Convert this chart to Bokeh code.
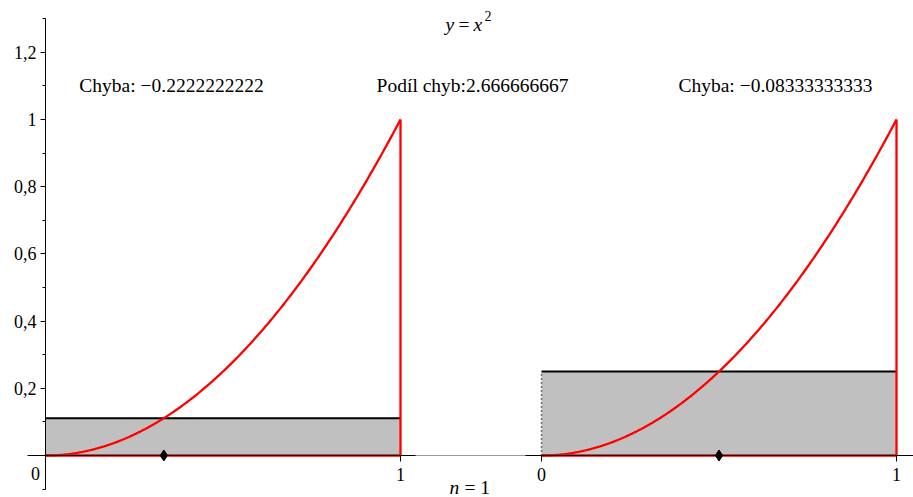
import numpy as np
from bokeh.plotting import figure
from bokeh.models import LinearAxis, FixedTicker, Range1d, Label
from bokeh.embed import file_html
from bokeh.resources import INLINE

# ---------------- data ----------------
interval = [0.0, 1.0]            # integration interval, n = 1 subinterval
n_value = 1
left_sample_x = [1 / 3]          # sample point in the left panel
left_rect_height = [1 / 9]       # rectangle height in the left panel
right_sample_x = [0.5]           # sample point in the right panel
right_rect_height = [0.25]       # rectangle height in the right panel
error_left = -0.2222222222
error_right = -0.08333333333
error_ratio = 2.666666667
curve_x = np.linspace(0.0, 1.0, 201)
curve_y = curve_x ** 2           # the plotted function y = x^2

y_major_ticks = [0.2, 0.4, 0.6, 0.8, 1.0, 1.2]
y_major_labels = ["0,2", "0,4", "0,6", "0,8", "1", "1,2"]
y_minor_ticks = [-0.1, 0.1, 0.3, 0.5, 0.7, 0.9, 1.1, 1.3]
x_tick_labels = ["1", "0", "1"]

# ---------------- layout ----------------
W, H = 913, 497
PX_X, PX_Y = 355.0, 336.0          # pixels per data unit
ORIG_X, ORIG_Y = 45, 455           # origin inside the figure
OFF = 496 / PX_X                   # horizontal offset of the second panel

def dx(page_x):
    return (page_x - ORIG_X) / PX_X

def dy(page_y):
    return (ORIG_Y - page_y) / PX_Y

FONT = "Liberation Serif"
RED = "#ff0000"

p = figure(width=W, height=H, title=None,
           x_range=Range1d(-ORIG_X / PX_X, (W - ORIG_X) / PX_X),
           y_range=Range1d(-(H - ORIG_Y) / PX_Y, ORIG_Y / PX_Y),
           output_backend="svg", toolbar_location=None, min_border=0,
           x_axis_type=None, y_axis_type=None)
p.outline_line_color = None
p.background_fill_color = "white"
p.border_fill_color = "white"

# ---------------- panels ----------------
a, b = interval
panels = [(0.0, left_sample_x[0], left_rect_height[0], False),
          (OFF, right_sample_x[0], right_rect_height[0], True)]
for o, s, h, dotted in panels:
    p.quad(left=[a + o], right=[b + o], bottom=[0], top=[h],
           fill_color="#c0c0c0", line_color=None)
    p.segment(x0=[a + o], y0=[h], x1=[b + o], y1=[h], line_color="black", line_width=2)
    if dotted:
        p.segment(x0=[a + o], y0=[0], x1=[a + o], y1=[h], line_color="black",
                  line_width=1.5, line_dash="1 3")
    p.line(curve_x + o, curve_y, line_color=RED, line_width=2.3)
    p.segment(x0=[b + o], y0=[0], x1=[b + o], y1=[curve_y[-1]], line_color=RED, line_width=2.3)
    p.segment(x0=[a + o], y0=[0], x1=[b + o], y1=[0], line_color=RED, line_width=2.5)
    p.scatter([s + o], [0], marker="diamond", size=11, color="black")

# ---------------- axes ----------------
yaxis = LinearAxis(fixed_location=0,
                   ticker=FixedTicker(ticks=y_major_ticks, minor_ticks=y_minor_ticks),
                   bounds=(y_minor_ticks[0], y_minor_ticks[-1]))
yaxis.major_label_overrides = dict(zip(y_major_ticks, y_major_labels))
yaxis.major_tick_out = 5
yaxis.major_tick_in = 0
yaxis.minor_tick_out = 3
yaxis.minor_tick_in = 0
yaxis.major_label_standoff = 4
yaxis.major_label_text_font = FONT
yaxis.major_label_text_font_size = "18px"
yaxis.major_label_text_color = "black"
yaxis.axis_line_color = "black"
yaxis.major_tick_line_color = "black"
yaxis.minor_tick_line_color = "black"
p.add_layout(yaxis, "left")

x_ticks = [b, OFF + a, OFF + b]
xaxis = LinearAxis(fixed_location=0,
                   ticker=FixedTicker(ticks=x_ticks, minor_ticks=[]),
                   bounds=(dx(27), (W - ORIG_X) / PX_X))
xaxis.major_label_overrides = dict(zip(x_ticks, x_tick_labels))
xaxis.major_tick_out = 6
xaxis.major_tick_in = 0
xaxis.major_label_standoff = 6
xaxis.major_label_text_font = FONT
xaxis.major_label_text_font_size = "18px"
xaxis.major_label_text_color = "black"
xaxis.axis_line_color = "black"
xaxis.major_tick_line_color = "black"
p.add_layout(xaxis, "below")

# lighter stretch of the axis between the two panels
p.segment(x0=[b + dx(60)], y0=[0], x1=[OFF + a - dx(61)], y1=[0],
          line_color="#9a9a9a", line_width=1, level="overlay")

# origin label
p.add_layout(Label(x=dx(35), y=dy(473), text="0", text_font=FONT, text_font_size="18px",
                   text_align="center", text_baseline="middle", text_color="black"))

# ---------------- texts ----------------
def fmt(v):
    return str(v).replace("-", "\u2212")

TS = "19.5px"
for txt, px in [("Chyba: " + fmt(error_left), 171),
                ("Podíl chyb:" + fmt(error_ratio), 472),
                ("Chyba: " + fmt(error_right), 775)]:
    p.add_layout(Label(x=dx(px), y=dy(85), text=txt, text_font=FONT, text_font_size=TS,
                       text_align="center", text_baseline="middle", text_color="black"))

# title y = x^2
for txt, px, py, style, size in [("y", 445, 24, "italic", TS), ("=", 458, 24, "normal", TS),
                                 ("x", 473, 24, "italic", TS), ("2", 484, 15, "normal", "14px")]:
    p.add_layout(Label(x=dx(px), y=dy(py), text=txt, text_font=FONT, text_font_size=size,
                       text_font_style=style, text_align="left", text_baseline="middle",
                       text_color="black"))

# bottom caption n = 1
for txt, px, style in [("n", 449, "italic"), ("= " + str(n_value), 464, "normal")]:
    p.add_layout(Label(x=dx(px), y=dy(487), text=txt, text_font=FONT, text_font_size=TS,
                       text_font_style=style, text_align="left", text_baseline="middle",
                       text_color="black"))

open("out.html", "w").write(file_html(p, INLINE))
